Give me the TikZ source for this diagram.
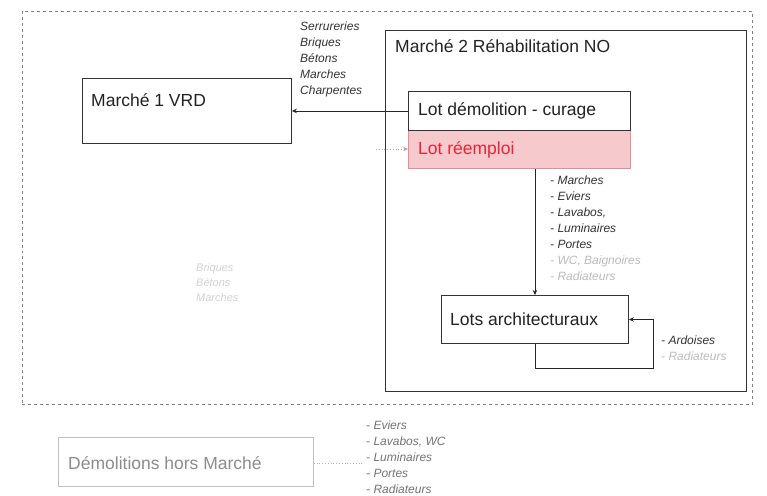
\documentclass[tikz,border=0pt]{standalone}
\usepackage{fontspec}
\setmainfont{Liberation Sans}
\usetikzlibrary{arrows.meta}
\definecolor{txt}{HTML}{222222}
\definecolor{lbl}{HTML}{333333}
\definecolor{faint}{HTML}{BBBBBB}
\definecolor{pinkfill}{HTML}{F6C9CC}
\definecolor{pinkline}{HTML}{E58C93}
\definecolor{redtxt}{HTML}{E3263B}
\begin{document}
\begin{tikzpicture}[x=1bp,y=-1bp,
  box/.style={draw=black!80, line width=0.9bp, rectangle, inner sep=0, anchor=north west},
  big/.style={font=\fontsize{17.5bp}{21bp}\selectfont, text=txt, inner sep=0, anchor=west},
  lst/.style={font=\fontsize{12bp}{16bp}\selectfont\itshape, text=lbl, inner sep=0, anchor=north west, align=left},
  arr/.style={draw=black!85, line width=0.8bp, -{Stealth[length=5bp,width=4.5bp]}},
  faintarr/.style={draw=black!35, line width=0.8bp, dotted, -{Stealth[length=5bp,width=4.5bp]}}
]
\useasboundingbox (0,0) rectangle (767,496);
\fill[white] (0,0) rectangle (767,496);

% outer dashed frame
\node[draw=black!50, dashed, line width=0.7bp, rectangle, inner sep=0, anchor=north west,
  minimum width=730bp, minimum height=393bp] (frame) at (22,11) {};

% Marche 2 box
\node[box, minimum width=361bp, minimum height=361bp] (m2) at (385,30) {};
\node[big] (m2t) at (395,46) {Marché 2 Réhabilitation NO};

% Marche 1 box
\node[box, minimum width=209bp, minimum height=65bp] (m1) at (82,78) {};
\node[big] (m1t) at (91,100) {Marché 1 VRD};

% Lot demolition
\node[box, minimum width=222bp, minimum height=39bp] (dem) at (408,91) {};
\node[big] (demt) at (418,111) {Lot démolition - curage};

% Lot reemploi
\node[box, draw=pinkline, fill=pinkfill, minimum width=222bp, minimum height=38bp] (reu) at (408,130) {};
\node[big, text=redtxt] (reut) at (418,150) {Lot réemploi};
\draw[black!80, line width=0.9bp] (dem.south west) -- (dem.south east);

% Lots architecturaux
\node[box, minimum width=187bp, minimum height=48bp] (arch) at (441,295) {};
\node[big] (archt) at (450,319) {Lots architecturaux};

% connectors
\draw[arr] (dem.west) -- (dem.west -| m1.east);
\coordinate (rsrc) at (376,149);
\draw[faintarr] (rsrc) -- (reu.west |- rsrc);
\draw[arr] (arch.north |- reu.south) -- (arch.north);
\coordinate (loopc) at (653,368);
\draw[arr] (arch.south) |- (loopc) |- (arch.east);

% labels
\node[lst] (l1) at (300,22) {Serrureries\\Briques\\Bétons\\Marches\\Charpentes};
\node[lst] (l2) at (550,176) {- Marches\\- Eviers\\- Lavabos,\\- Luminaires\\- Portes\\{\color{faint}- WC, Baignoires}\\{\color{faint}- Radiateurs}};
\node[lst] (l3) at (661,336) {- Ardoises\\{\color{faint}- Radiateurs}};
\node[lst, font=\fontsize{11bp}{15bp}\selectfont\itshape, text=black!18] (l4) at (196,263) {Briques\\Bétons\\Marches};

% hors marche
\node[box, draw=black!25, minimum width=255bp, minimum height=49bp] (hm) at (58,437) {};
\node[big, text=black!45] (hmt) at (68,463) {Démolitions hors Marché};
\coordinate (hmend) at (362,463);
\draw[black!30, line width=0.8bp, dotted] (hm.east |- hmend) -- (hmend);
\node[lst, text=black!55] (l5) at (366,421) {- Eviers\\- Lavabos, WC\\- Luminaires\\- Portes\\- Radiateurs};
\end{tikzpicture}
\end{document}
